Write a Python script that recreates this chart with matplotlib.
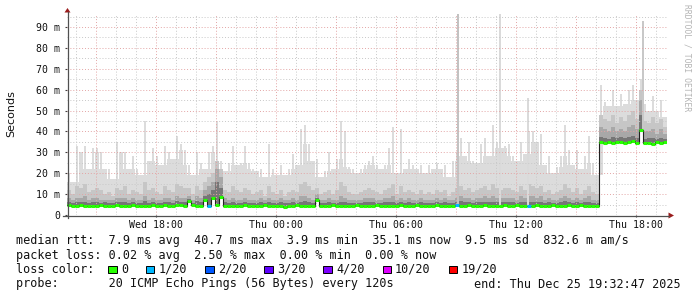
import numpy as np
import matplotlib
matplotlib.use("Agg")
import matplotlib.pyplot as plt
import matplotlib.dates as mdates
from matplotlib.patches import Rectangle, Polygon
from matplotlib.lines import Line2D
from datetime import datetime, timedelta

# ---------------- data (ms) ----------------
start = datetime(2025, 12, 24, 13, 32, 47)
end = datetime(2025, 12, 25, 19, 32, 47)
step_minutes = 12

rtt_max = [20,16,33,30,33,22,32,32,30,22,
           22,17,35,30,30,22,28,22,19,45,
           26,32,28,24,33,30,27,38,34,31,
           24,19,30,25,22,30,33,45,26,21,
           25,33,24,25,33,25,22,21,22,18,
           34,22,19,24,19,22,29,24,41,43,
           34,26,27,18,21,30,22,27,45,40,
           23,22,20,22,24,26,28,24,22,24,
           32,42,20,41,22,27,24,22,24,20,
           24,22,25,22,24,18,26,30,37,28,
           35,26,25,34,37,28,43,35,32,33,
           34,28,26,35,29,40,40,35,39,24,
           28,20,23,28,43,31,24,31,22,28,
           38,25,19,62,54,52,60,52,58,53,
           60,62,55,65,53,50,57,50,55,47]

rtt_hi2 = [12,10,14,13,15,11,12,13,12,10,
           11,9,13,12,14,10,12,11,10,16,
           12,13,11,10,14,12,11,15,14,13,
           13,10,14,12,16,18,20,26,22,12,
           11,14,12,11,13,12,10,11,12,9,
           14,11,10,12,9,11,12,11,15,16,
           14,12,13,10,11,12,10,12,16,14,
           11,10,10,11,12,13,12,11,10,12,
           13,15,10,14,11,12,11,10,12,10,
           11,10,12,11,12,9,11,13,14,12,
           13,11,12,13,14,12,15,13,12,13,
           13,12,11,14,12,15,14,13,14,11,
           12,10,11,12,15,13,11,13,10,12,
           14,11,10,48,46,45,48,44,47,45,
           48,50,46,60,45,44,47,44,46,42]

rtt_hi3 = [8,7,8,8,9,7,8,8,7,7,
           7,7,8,8,8,7,8,7,7,9,
           7,8,7,7,8,8,7,9,8,8,
           9,7,9,8,12,14,16,22,18,8,
           7,8,7,7,8,7,7,7,8,7,
           8,7,7,8,7,7,8,7,9,9,
           8,7,10,7,7,8,7,7,9,8,
           7,7,7,7,8,8,8,7,7,8,
           8,9,7,8,7,8,7,7,8,7,
           7,7,8,7,8,7,7,8,9,8,
           8,7,8,8,9,8,9,8,8,8,
           8,8,7,9,8,9,9,8,9,7,
           8,7,7,8,9,8,7,8,7,8,
           9,7,7,42,41,40,42,40,41,40,
           42,43,41,55,40,40,41,39,41,39]

rtt_hi4 = [6,5.8,6,6.2,6,5.8,6,6,5.9,6,
           5.8,5.8,6,6.2,6,5.8,6,5.9,5.8,6.5,
           5.9,6,5.8,5.9,6.2,6,5.8,6.5,6.3,6.2,
           7.5,5.8,6.5,6.2,9,10,12,16,13,6,
           5.8,6,5.8,5.9,6.1,5.8,5.8,5.7,6,5.8,
           6,5.8,5.7,6,5.8,5.7,6,5.8,6.3,6.5,
           6,5.8,8,5.8,5.9,6,5.8,5.9,6.3,6.1,
           5.8,5.8,5.8,5.8,6,6,6,5.8,5.8,6,
           6,6.3,5.8,6.2,5.8,6,5.8,5.8,6,5.8,
           5.8,5.8,6,5.8,6,5.8,5.8,6.2,6.5,6.1,
           6.1,5.8,6,6,6.3,6,6.3,6,6,6,
           6,6,5.8,6.4,6,6.3,6.4,6,6.3,5.8,
           6,5.8,5.8,6,6.5,6,5.8,6,5.8,6,
           6.4,5.8,5.8,37.5,37,36.5,37.5,37,37.5,37,
           37.5,38,37,48,36.5,37,37,36.5,37,36.5]

median = [4.6,4.5,4.4,4.6,4.5,4.3,4.5,4.4,4.6,4.5,
          4.3,4.4,4.6,4.5,4.4,4.5,4.6,4.4,4.5,4.3,
          4.5,4.6,4.4,4.5,4.7,4.5,4.4,4.6,4.8,4.5,
          6.5,4.6,4.4,4.5,7.2,4.4,8.0,5.0,8.6,4.5,
          4.4,4.5,4.3,4.5,4.6,4.4,4.3,4.5,4.4,4.6,
          4.5,4.4,4.3,4.5,3.9,4.4,4.5,4.6,4.4,4.5,
          4.5,4.4,7.0,4.5,4.3,4.5,4.6,4.4,4.5,4.3,
          4.4,4.5,4.6,4.4,4.5,4.3,4.5,4.6,4.4,4.5,
          4.4,4.3,4.5,4.6,4.4,4.5,4.4,4.6,4.5,4.4,
          4.5,4.4,4.6,4.5,4.3,4.5,4.4,5.0,4.5,4.4,
          4.6,4.5,4.4,4.5,4.6,4.4,4.5,4.3,4.5,4.6,
          4.4,4.5,4.6,4.4,4.5,4.4,4.3,4.6,4.5,4.4,
          4.5,4.6,4.4,4.5,4.3,4.6,4.5,4.4,4.6,4.5,
          4.4,4.5,4.4,34.8,34.5,34.7,34.4,34.9,35.1,34.6,
          34.8,35.2,34.5,40.5,34.3,34.6,34.2,34.8,34.5,35.1]

loss_cols = [35, 97, 115]
loss_counts = [1, 1, 1]

spike_hours = [19.55, 21.65, 23.05, 28.78]
spike_tops = [96.0, 96.0, 56.0, 93.0]
spike_shades = ['#c2c2c2', '#dadada', '#dadada', '#c8c8c8']

loss_levels = ['0', '1/20', '2/20', '3/20', '4/20', '10/20', '19/20']
loss_colors = ['#26ff00', '#00b8ff', '#0059ff', '#5e00ff', '#7e00ff', '#dd00ff', '#ff0000']
loss_color_map = {0: '#26ff00', 1: '#00b8ff', 2: '#0059ff', 3: '#5e00ff',
                  4: '#7e00ff', 10: '#dd00ff', 19: '#ff0000'}

legend_lines = [
    "median rtt:  7.9 ms avg  40.7 ms max  3.9 ms min  35.1 ms now  9.5 ms sd  832.6 m am/s",
    "packet loss: 0.02 % avg  2.50 % max  0.00 % min  0.00 % now",
]
probe_text = "probe:       20 ICMP Echo Pings (56 Bytes) every 120s"
end_text = "end: Thu Dec 25 19:32:47 2025"

# ---------------- figure ----------------
W, H = 697, 297
fig = plt.figure(figsize=(W / 100, H / 100), dpi=100)
fig.patch.set_facecolor('white')
ax = fig.add_axes([67 / W, 82 / H, 600 / W, 201 / H])
ax.set_facecolor('white')

n = len(median)
edges = mdates.date2num([start + timedelta(minutes=step_minutes * i) for i in range(n + 1)])
colw = edges[1] - edges[0]
def ext(a):
    a = np.asarray(a, dtype=float)
    return np.append(a, a[-1])

med = np.asarray(median, dtype=float)
mx = np.asarray(rtt_max, dtype=float)
# continuous light body up to the lowest of neighbouring maxima, thin spikes above
body = np.minimum(mx, np.minimum(np.r_[mx[0], mx[:-1]], np.r_[mx[1:], mx[-1]]))
ax.fill_between(edges, ext(med), ext(body), step='post', color='#dcdcdc', lw=0, zorder=1)
centers = edges[:-1] + colw / 2
ax.bar(centers, mx - body, bottom=body, width=colw * 0.55, color='#dcdcdc', lw=0, zorder=1)

for arr, col in [(rtt_hi2, '#c6c6c6'), (rtt_hi3, '#a8a8a8'), (rtt_hi4, '#767676')]:
    ax.fill_between(edges, ext(med), ext(arr), step='post', color=col, lw=0, zorder=1.1)

# narrow tall spikes
wdays = 0.1 / 24
for h, top, c in zip(spike_hours, spike_tops, spike_shades):
    t = mdates.date2num(start + timedelta(hours=h))
    idx = int(h * 60 / step_minutes)
    ax.bar(t, top - median[idx], bottom=median[idx], width=wdays, color=c, lw=0, zorder=1.2)

ax.set_xlim(mdates.date2num(start), mdates.date2num(end))
ax.set_ylim(0, 96.2)

# grid (drawn over smoke)
for v in np.arange(5, 96, 5):
    if v % 10 == 0:
        ax.axhline(v, color='#e3a5a5', lw=0.7, ls=(0, (1, 2)), zorder=2)
    else:
        ax.axhline(v, color='#c8c8c8', lw=0.7, ls=(0, (1, 2)), zorder=2)
t = start.replace(minute=0, second=0) + timedelta(hours=1)
while t < end:
    col = '#e3a5a5' if t.hour % 3 == 0 else '#c8c8c8'
    ax.axvline(mdates.date2num(t), color=col, lw=0.7, ls=(0, (1, 2)), zorder=2)
    t += timedelta(hours=1)

# median line: dark connector + loss-colored segments
ax.step(edges, ext(med), where='post', color='#202020', lw=0.8, zorder=3)
seg_cols = ['#26ff00'] * n
for c, k in zip(loss_cols, loss_counts):
    seg_cols[c] = loss_color_map[k]
ax.hlines(med, edges[:-1], edges[1:], colors=seg_cols, lw=2.2, zorder=4)

# axes styling
for s in ax.spines.values():
    s.set_visible(False)
ax.xaxis.set_major_locator(mdates.HourLocator(byhour=[0, 6, 12, 18]))
ax.xaxis.set_major_formatter(mdates.DateFormatter('%a %H:%M'))
ax.set_yticks(np.arange(0, 91, 10))
ax.set_yticklabels(['0' if v == 0 else f'{v} m' for v in range(0, 91, 10)])
ax.tick_params(axis='both', length=1.5, width=0.8, color='#404040', labelsize=7.1,
               labelcolor='#111111')
ax.tick_params(axis='x', pad=1.8)
ax.tick_params(axis='y', pad=3.6)
for lab in ax.get_xticklabels() + ax.get_yticklabels():
    lab.set_family('DejaVu Sans Mono')

def fx(x):
    return x / W
def fy(y):
    return 1 - y / H

# axis lines + arrows
fig.add_artist(Line2D([fx(67.5), fx(67.5)], [fy(218), fy(12)], color='#505050', lw=0.9))
fig.add_artist(Line2D([fx(63), fx(669)], [fy(215.5), fy(215.5)], color='#505050', lw=0.9))
fig.add_artist(Polygon([[fx(64.5), fy(12.5)], [fx(70.5), fy(12.5)], [fx(67.5), fy(8)]],
                       closed=True, transform=fig.transFigure, fc='#9b1c1c', ec='none'))
fig.add_artist(Polygon([[fx(668.5), fy(212.5)], [fx(668.5), fy(218.5)], [fx(674), fy(215.5)]],
                       closed=True, transform=fig.transFigure, fc='#9b1c1c', ec='none'))

# labels
fig.text(fx(11), fy(114), 'Seconds', rotation=90, ha='center', va='center',
         fontsize=8, family='DejaVu Sans', color='#111111')
fig.text(fx(687), fy(4), 'RRDTOOL / TOBI OETIKER', rotation=-90, ha='center', va='top',
         fontsize=5.8, family='DejaVu Sans Mono', color='#b4b4b4')

mono = dict(family='DejaVu Sans Mono', fontsize=8.5, color='#111111', va='baseline')
fig.text(fx(16), fy(244), legend_lines[0], **mono)
fig.text(fx(16), fy(258.5), legend_lines[1], **mono)
fig.text(fx(16), fy(273), 'loss color:', **mono)
fig.text(fx(16), fy(287.5), probe_text, **mono)
fig.text(fx(681), fy(287.5), end_text, ha='right', **mono)

cur = 108.3
cw = 7.13
for lab, col in zip(loss_levels, loss_colors):
    fig.add_artist(Rectangle((fx(cur), fy(273.3)), 8.4 / W, 7.8 / H,
                             transform=fig.transFigure, fc=col, ec='black', lw=0.7))
    lx = cur + 12.6
    fig.text(fx(lx), fy(273), lab, **mono)
    cur = lx + len(lab) * cw + 18

fig.savefig('out.png', dpi=100, facecolor='white')
